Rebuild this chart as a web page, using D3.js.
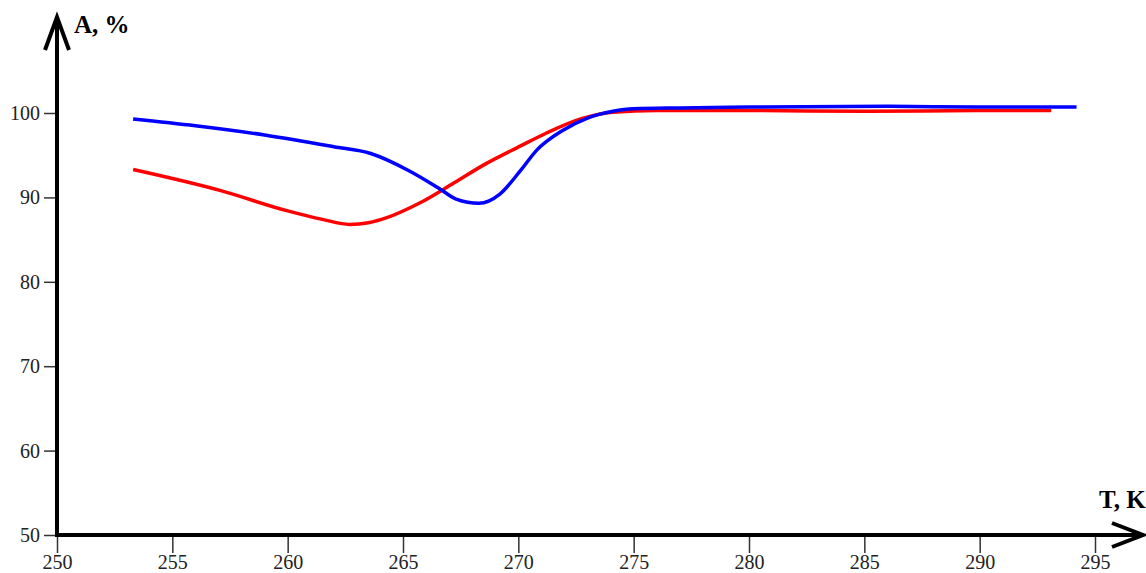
<!DOCTYPE html>
<html><head><meta charset="utf-8">
<script src="https://cdn.jsdelivr.net/npm/d3@7"></script>
<style>html,body{margin:0;padding:0;background:#fff;overflow:hidden}</style>
</head><body>
<svg id="c" width="1146" height="573"></svg>
<script>
const xTicks = [250,255,260,265,270,275,280,285,290,295];
const yTicks = [50,60,70,80,90,100];
const blueT = [253.3,256,259,262,263.6,265.3,266.6,267.3,268.3,269.2,270.1,270.8,271.9,273.0,274.1,275,277,280,286,290,294.2];
const blueA = [99.3,98.5,97.4,96.0,95.2,93.1,91.0,89.8,89.3,90.4,93.2,95.6,97.9,99.4,100.2,100.5,100.6,100.7,100.8,100.7,100.7];
const redT = [253.3,257.1,260,261.5,262.7,263.5,264.3,265.7,267.2,268.6,270.1,271.2,272.7,274.1,276,280,285,290,293.1];
const redA = [93.3,90.8,88.4,87.4,86.8,87.0,87.6,89.3,91.7,94.0,96.1,97.6,99.3,100.1,100.3,100.3,100.2,100.3,100.3];
const xLabel = "T, K", yLabel = "A, %";

const svg = d3.select("#c");
const x = d3.scaleLinear().domain([250,295]).range([57,1095]);
const y = d3.scaleLinear().domain([50,100]).range([535,113]);
const font = "'Liberation Serif','Times New Roman',serif";

// y ticks
const ya = d3.axisLeft(y).tickValues(yTicks).tickSize(13).tickPadding(4).tickFormat(d3.format("d"));
const gy = svg.append("g").attr("transform","translate(57,0)").call(ya);
gy.select(".domain").remove();
gy.selectAll(".tick line").attr("stroke","#333").attr("stroke-width",1.5);
gy.selectAll(".tick text").attr("font-family",font).attr("font-size",20).attr("fill","#222");

// x ticks
const xa = d3.axisBottom(x).tickValues(xTicks).tickSize(18).tickPadding(2).tickFormat(d3.format("d"));
const gx = svg.append("g").attr("transform","translate(0,535)").call(xa);
gx.select(".domain").remove();
gx.selectAll(".tick line").attr("stroke","#333").attr("stroke-width",1.5);
gx.selectAll(".tick text").attr("font-family",font).attr("font-size",20).attr("fill","#222");

// axes with arrows
const ax = svg.append("g").attr("stroke","#000").attr("stroke-width",4).attr("fill","none").attr("stroke-linecap","butt");
ax.append("line").attr("x1",57).attr("y1",537).attr("x2",57).attr("y2",17);
ax.append("polyline").attr("points","45,50 57,17 69,50");
ax.append("line").attr("x1",55).attr("y1",535).attr("x2",1143).attr("y2",535);
ax.append("polyline").attr("points","1112,523 1143,535 1112,547");

svg.append("text").attr("x",74).attr("y",33).attr("font-family",font).attr("font-weight","bold")
  .attr("font-size",25).attr("fill","#000").text(yLabel);
svg.append("text").attr("x",1099).attr("y",508).attr("font-family",font).attr("font-weight","bold")
  .attr("font-size",25).attr("fill","#000").text(xLabel);

const line = d3.line().x(d=>x(d[0])).y(d=>y(d[1])).curve(d3.curveMonotoneX);
const red = redT.map((t,i)=>[t,redA[i]]);
const blue = blueT.map((t,i)=>[t,blueA[i]]);
svg.append("path").attr("d",line(red)).attr("fill","none").attr("stroke","#ff0000").attr("stroke-width",3.5);
svg.append("path").attr("d",line(blue)).attr("fill","none").attr("stroke","#0000ff").attr("stroke-width",3.5);
</script>
</body></html>
